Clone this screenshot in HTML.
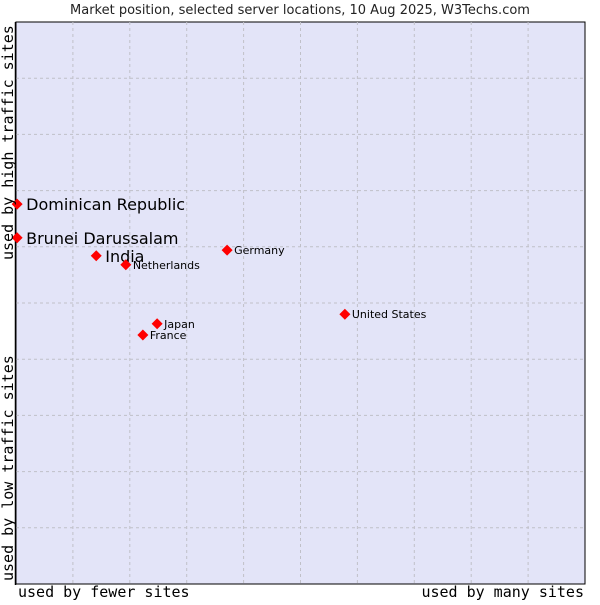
<!DOCTYPE html>
<html><head><meta charset="utf-8"><style>
body{margin:0;background:#fff;width:600px;height:600px;overflow:hidden}
svg text{font-family:"DejaVu Sans","Liberation Sans",sans-serif}
.mono{font-family:"DejaVu Sans Mono","Liberation Mono",monospace}
</style></head><body>
<svg width="600" height="600">
<text x="300" y="14" text-anchor="middle" font-size="13" fill="#222">Market position, selected server locations, 10 Aug 2025, W3Techs.com</text>
<rect x="16" y="22" width="569" height="562" fill="#e3e4f8" stroke="#000" stroke-width="1"/>
<g id="grid"></g>
<line x1="15.5" y1="22" x2="15.5" y2="585" stroke="#000" stroke-width="1.5"/>
<g id="pts"></g>
<text class="mono" x="18" y="597" font-size="15" fill="#000">used by fewer sites</text>
<text class="mono" x="584" y="597" font-size="15" fill="#000" text-anchor="end">used by many sites</text>
<text class="mono" transform="translate(13,581) rotate(-90)" font-size="15" fill="#000">used by low traffic sites</text>
<text class="mono" transform="translate(13,260) rotate(-90)" font-size="15" fill="#000">used by high traffic sites</text>
</svg>
<script>
const names=["Dominican Republic","Brunei Darussalam","India","Netherlands","Germany","United States","Japan","France"];
const xVals=[0.2,0.2,14.1,19.3,37.1,57.8,24.8,22.3];
const yVals=[67.6,61.6,58.4,56.8,59.4,48.0,46.3,44.3];
const bigLabel=[true,true,true,false,false,false,false,false];
const ns="http://www.w3.org/2000/svg";
const X0=16,X1=585,Y0=584,Y1=22;
const sx=v=>X0+(X1-X0)*v/100, sy=v=>Y0-(Y0-Y1)*v/100;
const grid=document.getElementById('grid');
for(let i=1;i<10;i++){
 let l=document.createElementNS(ns,'line');
 l.setAttribute('x1',sx(i*10));l.setAttribute('x2',sx(i*10));l.setAttribute('y1',Y1);l.setAttribute('y2',Y0);
 l.setAttribute('stroke','#c0c0c8');l.setAttribute('stroke-dasharray','3,3');
 
 
 grid.appendChild(l);
 let h=document.createElementNS(ns,'line');
 h.setAttribute('y1',sy(i*10));h.setAttribute('y2',sy(i*10));h.setAttribute('x1',X0);h.setAttribute('x2',X1);
 h.setAttribute('stroke','#c0c0c8');h.setAttribute('stroke-dasharray','3,3');
 
 
 grid.appendChild(h);
}
const pts=document.getElementById('pts');
names.forEach((n,i)=>{
 const x=sx(xVals[i]),y=sy(yVals[i]);
 const p=document.createElementNS(ns,'polygon');
 p.setAttribute('points',`${x},${y-5.5} ${x+5.5},${y} ${x},${y+5.5} ${x-5.5},${y}`);
 p.setAttribute('fill','#f00');
 
 
 pts.appendChild(p);
 const t=document.createElementNS(ns,'text');
 const big=bigLabel[i];
 t.setAttribute('x',x+(big?9:7));t.setAttribute('y',y+(big?6:4));
 t.setAttribute('font-size',big?16:11);t.setAttribute('fill','#000');
 t.textContent=n;
 
 
 pts.appendChild(t);
});
</script>
</body></html>
